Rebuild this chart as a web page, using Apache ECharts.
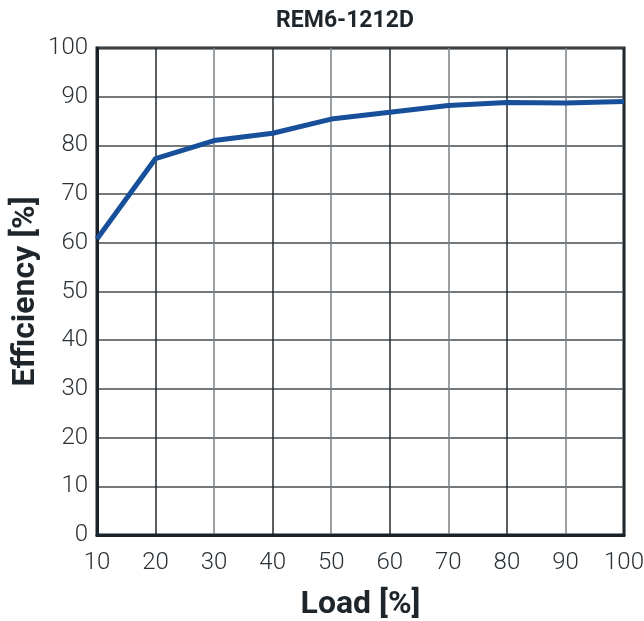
<!DOCTYPE html>
<html><head><meta charset="utf-8">
<script src="https://cdn.jsdelivr.net/npm/echarts@6/dist/echarts.min.js"></script>
<style>html,body{margin:0;padding:0;background:#fff}#c{width:644px;height:621px}</style>
</head><body><div id="c"></div>
<script>
const loads = [10, 20, 30, 40, 50, 60, 70, 80, 90, 100];
const efficiency = [60.8, 77.3, 81.0, 82.5, 85.4, 86.8, 88.2, 88.8, 88.7, 89.0];
const title = 'REM6-1212D';
const FONT = 'Roboto, "Liberation Sans", sans-serif';
const chart = echarts.init(document.getElementById('c'), null, {renderer: 'canvas'});
chart.setOption({
  animation: false,
  title: {text: title, left: 340, top: 5, textAlign: 'center',
    textStyle: {fontFamily: FONT, fontSize: 23, fontWeight: 'bold', color: '#1e252b'}},
  grid: {left: 97, right: 20, top: 48, bottom: 86, show: true, containLabel: false,
    outerBoundsMode: 'none',
    borderColor: '#1a2329', borderWidth: 3, backgroundColor: 'transparent'},
  xAxis: {type: 'value', min: 10, max: 100, interval: 10,
    name: 'Load [%]', nameLocation: 'middle', nameGap: 54,
    nameTextStyle: {fontFamily: FONT, fontSize: 32, fontWeight: 'bold', color: '#1e252b'},
    axisLine: {show: true, lineStyle: {color: '#1a2329', width: 3}},
    axisTick: {show: false},
    axisLabel: {fontFamily: FONT, fontSize: 24, fontWeight: 300, color: '#2a3136', margin: 16},
    splitLine: {show: true, lineStyle: {color: ['#7c8185', '#20282d'], width: 1.5}}},
  yAxis: {type: 'value', min: 0, max: 100, interval: 10,
    name: 'Efficiency [%]', nameLocation: 'middle', nameGap: 55, nameMoveOverlap: false,
    nameTextStyle: {fontFamily: FONT, fontSize: 32, fontWeight: 'bold', color: '#1e252b'},
    axisLine: {show: true, lineStyle: {color: '#1a2329', width: 3}},
    axisTick: {show: false},
    axisLabel: {fontFamily: FONT, fontSize: 24, fontWeight: 300, color: '#2a3136', margin: 9},
    splitLine: {show: true, lineStyle: {color: '#454d52', width: 1.5}}},
  series: [{type: 'line', data: loads.map((x, i) => [x, efficiency[i]]),
    symbol: 'none', lineStyle: {color: '#174f9b', width: 5}, z: 5}]
});
</script></body></html>
